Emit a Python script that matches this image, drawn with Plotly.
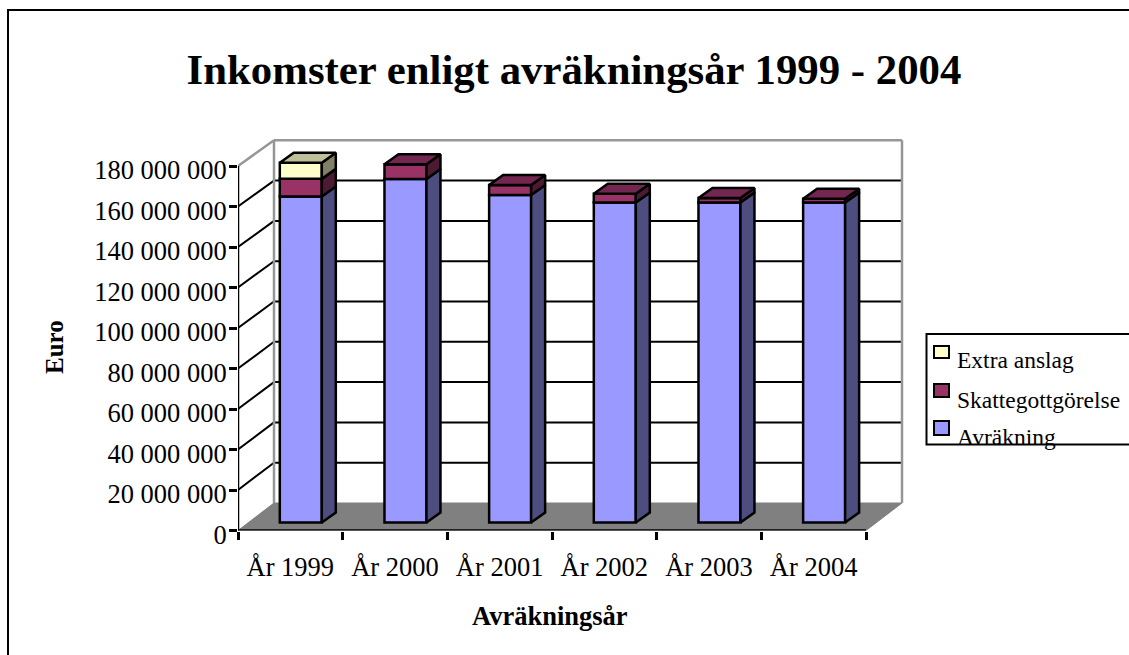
import plotly.graph_objects as go

categories = ["År 1999", "År 2000", "År 2001", "År 2002", "År 2003", "År 2004"]
avrakning = [161000000, 169600000, 161700000, 158000000, 158000000, 158000000]
skatte = [8700000, 7300000, 5000000, 4300000, 2200000, 1900000]
extra = [8000000, 0, 0, 0, 0, 0]
y_ticks = list(range(0, 180000001, 20000000))
y_ticktext = [f"{v:,}".replace(",", " ") for v in y_ticks]

series = [
    ("Avräkning", avrakning, "#9999FF", "#4D4D80", "#7373BF"),
    ("Skattegottgörelse", skatte, "#993366", "#4D1A33", "#732650"),
    ("Extra anslag", extra, "#FFFFCC", "#808066", "#BFBF99"),
]

W, H = 1129, 655
FONT = "Liberation Serif"
X0, X_WALL_R, Y0, Y_TOP = 238, 903, 530.5, 138.5
PX_X = (866 - 238) / 6
PX_Y = (530.5 - 166) / 180000000.0
n = len(categories)
LW = 2.5


def px(v):
    return v / W


def py(v):
    return 1 - v / H


dx_wall, dy_wall = 36 / PX_X, 27.5 / PX_Y
wall_scale = 0.995
dx_front, dy_front = 10.5 / PX_X, 8 / PX_Y
dx_bar, dy_bar = 14 / PX_X, 10 / PX_Y
bar_w = 42 / PX_X
centers = [i + 0.6 for i in range(n)]

fig = go.Figure()

# front faces
cum = [dy_front] * n
stack = []
for name, vals, c, side, top in series:
    stack.append(list(cum))
    fig.add_trace(go.Bar(x=centers, y=vals, base=list(cum), width=bar_w, name=name,
                         marker=dict(color=c, line=dict(color="black", width=LW)), showlegend=False))
    cum = [a + b for a, b in zip(cum, vals)]

# side and top faces
for s, (name, vals, c, side, top) in enumerate(series):
    sx, sy, tx, ty = [], [], [], []
    for i in range(n):
        if vals[i] <= 0:
            continue
        r = centers[i] + bar_w / 2
        l = centers[i] - bar_w / 2
        b = stack[s][i]
        t = b + vals[i]
        sx += [r, r + dx_bar, r + dx_bar, r, r, None]
        sy += [b, b + dy_bar, t + dy_bar, t, b, None]
        if all(series[k][1][i] <= 0 for k in range(s + 1, len(series))):
            tx += [l, l + dx_bar, r + dx_bar, r, l, None]
            ty += [t, t + dy_bar, t + dy_bar, t, t, None]
    fig.add_trace(go.Scatter(x=sx, y=sy, mode="lines", fill="toself", fillcolor=side,
                             line=dict(color="black", width=LW), showlegend=False, hoverinfo="skip"))
    if tx:
        fig.add_trace(go.Scatter(x=tx, y=ty, mode="lines", fill="toself", fillcolor=top,
                                 line=dict(color="black", width=LW), showlegend=False, hoverinfo="skip"))

# axis lines
fig.add_trace(go.Scatter(x=[0, n, None, 0, 0], y=[0, 0, None, 0, y_ticks[-1]], mode="lines",
                         line=dict(color="black", width=LW), cliponaxis=False,
                         showlegend=False, hoverinfo="skip"))

shapes = []
GRAY = "#969696"
wall_y = lambda v: v * wall_scale + dy_wall
# floor
shapes.append(dict(type="path", layer="below", xref="x", yref="y", fillcolor="#808080",
                   line=dict(color="#808080", width=1),
                   path=f"M 0 0 L {n} 0 L {n + dx_wall} {wall_y(0)} L {dx_wall} {wall_y(0)} Z"))
# grid on walls
for v in y_ticks[1:-1]:
    shapes.append(dict(type="line", layer="below", xref="x", yref="y", x0=dx_wall, x1=n + dx_wall,
                       y0=wall_y(v), y1=wall_y(v), line=dict(color="black", width=2)))
    shapes.append(dict(type="line", layer="below", xref="x", yref="y", x0=0, x1=dx_wall,
                       y0=v, y1=wall_y(v), line=dict(color="black", width=2)))
top_w = wall_y(y_ticks[-1])
for x0, y0, x1, y1 in [(dx_wall, top_w, n + dx_wall, top_w), (dx_wall, wall_y(0), dx_wall, top_w),
                       (n + dx_wall, wall_y(0), n + dx_wall, top_w), (0, y_ticks[-1], dx_wall, top_w)]:
    shapes.append(dict(type="line", layer="below", xref="x", yref="y", x0=x0, x1=x1, y0=y0, y1=y1,
                       line=dict(color=GRAY, width=2.5)))
# outer frame
shapes.append(dict(type="rect", xref="paper", yref="paper", x0=px(8), x1=px(W + 10), y0=py(10), y1=py(H + 10),
                   line=dict(color="black", width=2)))
# legend
shapes.append(dict(type="rect", xref="paper", yref="paper", x0=px(926.5), x1=px(W + 10), y0=py(334), y1=py(444.5),
                   line=dict(color="black", width=2), fillcolor="white"))
annotations = []
legend_rows = [(series[2], 346, 358, 360), (series[1], 384, 397, 400), (series[0], 421, 435, 437)]
for (name, vals, c, side, top), y0, y1, yt in legend_rows:
    shapes.append(dict(type="rect", xref="paper", yref="paper", x0=px(934), x1=px(949), y0=py(y0), y1=py(y1),
                       line=dict(color="black", width=2), fillcolor=c))
    annotations.append(dict(text=name, xref="paper", yref="paper", x=px(955), y=py(yt), xanchor="left",
                            yanchor="middle", showarrow=False, font=dict(family=FONT, size=23.5, color="black")))
annotations.append(dict(text="<b>Avräkningsår</b>", xref="paper", yref="paper", x=px(550), y=py(615.5),
                        xanchor="center", yanchor="middle", showarrow=False,
                        font=dict(family=FONT, size=26.5, color="black")))
annotations.append(dict(text="<b>Euro</b>", xref="paper", yref="paper", x=px(54), y=py(347), textangle=-90,
                        xanchor="center", yanchor="middle", showarrow=False,
                        font=dict(family=FONT, size=25, color="black")))

fig.update_layout(
    width=W, height=H, margin=dict(l=0, r=0, t=0, b=0, autoexpand=False),
    paper_bgcolor="white", plot_bgcolor="white", barmode="overlay", showlegend=False,
    title=dict(text="<b>Inkomster enligt avräkningsår 1999 - 2004</b>", x=574 / W, xanchor="center",
               y=py(69), yanchor="middle", font=dict(family=FONT, size=42.8, color="black")),
    xaxis=dict(domain=[px(X0), px(X_WALL_R + 2)], range=[0, (X_WALL_R + 2 - X0) / PX_X], automargin=False,
               tickmode="array", tickvals=[i + 0.5 for i in range(n)], ticktext=categories,
               ticks="", showgrid=False, zeroline=False, showline=False, ticklabelstandoff=18,
               tickfont=dict(family=FONT, size=26.5, color="black"),
               minor=dict(tickmode="array", tickvals=list(range(n + 1)), ticks="outside", ticklen=8,
                          tickwidth=LW, tickcolor="black", showgrid=False)),
    yaxis=dict(domain=[py(Y0), py(Y_TOP)], range=[0, (Y0 - Y_TOP) / PX_Y], automargin=False,
               tickmode="array", tickvals=y_ticks, ticktext=y_ticktext, ticks="outside", ticklen=8,
               tickwidth=LW, tickcolor="black", showgrid=False, zeroline=False, showline=False,
               ticklabelshift=4, ticklabelstandoff=-3,
               tickfont=dict(family=FONT, size=26.5, color="black")),
    shapes=shapes, annotations=annotations,
)

fig.write_html("out.html", config={"displayModeBar": False},
               post_script="document.body.style.margin='0';document.documentElement.style.overflow='hidden';")
